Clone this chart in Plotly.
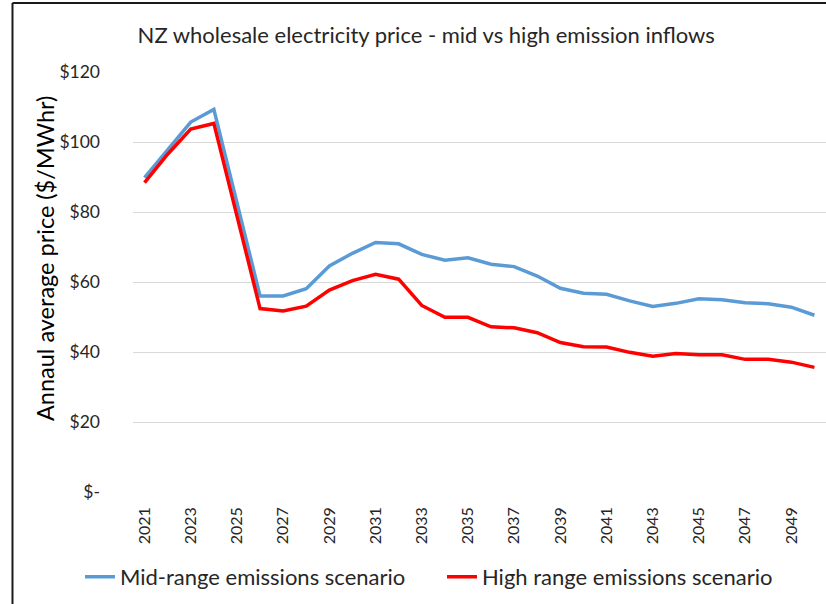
import plotly.graph_objects as go

# Annual average wholesale price ($/MWhr)
years = list(range(2021, 2051))
mid_range = [89.8, 97.9, 105.7, 109.3, 82.7, 56.0, 56.0, 58.1, 64.6, 68.2,
             71.3, 70.9, 67.9, 66.2, 66.9, 65.1, 64.4, 61.7, 58.2, 56.8,
             56.5, 54.6, 53.0, 53.9, 55.2, 54.9, 54.1, 53.8, 52.8, 50.5]
high_range = [88.4, 96.5, 103.7, 105.3, 78.9, 52.4, 51.7, 53.1, 57.7, 60.4,
              62.2, 60.8, 53.3, 49.9, 49.9, 47.2, 46.9, 45.5, 42.7, 41.5,
              41.4, 39.9, 38.8, 39.6, 39.2, 39.2, 37.9, 37.9, 37.1, 35.6]
series_names = ["Mid-range emissions scenario", "High range emissions scenario"]
y_ticks = [0, 20, 40, 60, 80, 100, 120]
y_tick_labels = ["$-", "$20", "$40", "$60", "$80", "$100", "$120"]

FONT = "Lato, Liberation Sans, Arial, sans-serif"
TEXT = "#262626"

fig = go.Figure()
fig.add_trace(go.Scatter(x=years, y=mid_range, name=series_names[0], mode="lines",
                         line=dict(color="#5B9BD5", width=3.5)))
fig.add_trace(go.Scatter(x=years, y=high_range, name=series_names[1], mode="lines",
                         line=dict(color="#FF0000", width=3.5)))

fig.update_layout(
    width=826, height=604,
    margin=dict(l=133, r=0, t=72, b=112),
    paper_bgcolor="white", plot_bgcolor="white",
    font=dict(family=FONT, color=TEXT),
    title=dict(text="NZ wholesale electricity price - mid vs high emission inflows",
               x=0.516, xanchor="center", y=0.942, yanchor="middle",
               font=dict(size=22, color=TEXT)),
    legend=dict(orientation="h", x=-0.0765, xanchor="left", y=-0.202, yanchor="middle",
                font=dict(size=22, color=TEXT), itemwidth=30, entrywidth=317,
                bgcolor="rgba(0,0,0,0)"),
    showlegend=True,
)

fig.update_xaxes(range=[2020.5, 2050.5], tickvals=years[::2], ticktext=[str(y) for y in years[::2]],
                 tickangle=-90, tickfont=dict(size=16, color=TEXT), ticklabelstandoff=11,
                 showgrid=False, zeroline=False, showline=False, ticks="")
fig.update_yaxes(range=[0, 120], tickvals=y_ticks, ticktext=y_tick_labels,
                 tickfont=dict(size=17.5, color=TEXT), ticklabelstandoff=32,
                 showgrid=True, gridcolor="#D9D9D9", gridwidth=1,
                 zeroline=False, showline=False, ticks="")

# y-axis title sits higher than the plot centre in the original
fig.add_annotation(text="Annaul average price ($/MWhr)", xref="paper", yref="paper",
                   x=-0.127, y=0.557, xanchor="center", yanchor="middle",
                   textangle=-90, showarrow=False,
                   font=dict(size=23.5, color="#000000"))

# frame of the cropped chart area (left and top edges only)
fig.add_shape(type="line", xref="paper", yref="paper", x0=-0.1739, x1=-0.1739, y0=-0.3, y1=1.1643,
              line=dict(color="#1a1a1a", width=2))
fig.add_shape(type="line", xref="paper", yref="paper", x0=-0.1739, x1=1.0, y0=1.1643, y1=1.1643,
              line=dict(color="#1a1a1a", width=2))

# drop the browser's default 8px body margin so the figure fills the window exactly
fig.write_html("out.html", config={"displayModeBar": False},
               post_script="document.body.style.margin='0';document.body.style.overflow='hidden';")
